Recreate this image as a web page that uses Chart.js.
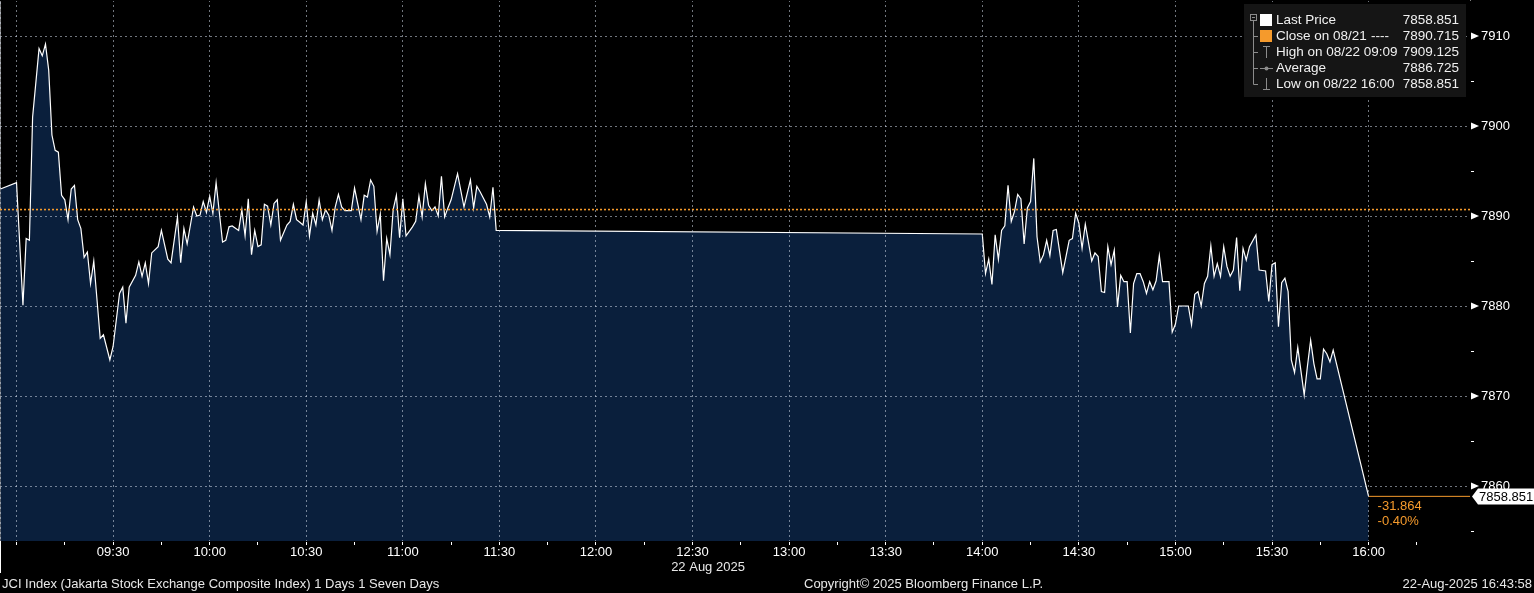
<!DOCTYPE html>
<html>
<head>
<meta charset="utf-8">
<script src="https://cdn.jsdelivr.net/npm/chart.js@4.4.1/dist/chart.umd.min.js"></script>
<style>
  html, body { margin: 0; padding: 0; background: #000; }
  canvas { display: block; }
</style>
</head>
<body>
<canvas id="chart1" width="1534" height="593"></canvas>
<script>
// minutes after the 09:00 open (pre-open print at -5)
var amMinutes = [-5, 0, 2, 3, 4, 5, 7, 8, 9, 10, 11, 12, 13, 14, 15, 16, 17, 18, 19, 20,
  21, 22, 23, 24, 26, 27, 29, 30, 32, 33, 34, 35, 37, 38, 39, 40, 41, 42, 44, 45,
  47, 48, 50, 51, 52, 53, 55, 56, 57, 58, 59, 60, 61, 62, 64, 65, 66, 67, 69, 70,
  71, 72, 73, 74, 75, 76, 77, 78, 79, 80, 81, 82, 84, 85, 86, 87, 88, 89, 90, 91,
  92, 93, 94, 95, 96, 97, 98, 99, 100, 101, 102, 104, 105, 107, 108, 109, 110, 111, 112, 113,
  114, 115, 116, 117, 118, 119, 120, 121, 122, 123, 124, 125, 126, 127, 128, 129, 130, 131, 132, 133,
  134, 135, 137, 139, 141, 142, 143, 144, 146, 147, 148, 149];
var amValues = [7893.0, 7893.7, 7880.1, 7887.5, 7887.3, 7901.0, 7908.6, 7907.8, 7909.1, 7906.2,
  7899.0, 7897.3, 7897.1, 7892.3, 7891.8, 7889.6, 7893.0, 7893.4, 7889.6, 7888.6,
  7885.4, 7886.0, 7882.5, 7885.0, 7876.4, 7876.8, 7874.0, 7875.5, 7881.4, 7882.1,
  7878.1, 7882.1, 7883.4, 7884.9, 7883.3, 7884.8, 7882.5, 7885.9, 7886.6, 7888.4,
  7885.2, 7884.8, 7889.9, 7884.8, 7888.6, 7886.9, 7891.0, 7890.0, 7890.1, 7891.6,
  7890.4, 7892.2, 7890.3, 7893.7, 7887.1, 7887.3, 7888.8, 7888.9, 7888.4, 7890.7,
  7887.8, 7891.9, 7885.7, 7888.4, 7886.6, 7886.8, 7891.3, 7891.1, 7889.0, 7891.4,
  7891.8, 7887.3, 7889.0, 7889.4, 7891.3, 7889.6, 7889.3, 7889.0, 7891.6, 7887.8,
  7890.3, 7889.0, 7891.8, 7889.6, 7890.7, 7890.1, 7888.4, 7891.0, 7892.4, 7891.0,
  7890.6, 7890.6, 7893.1, 7889.6, 7892.3, 7892.1, 7894.0, 7893.3, 7888.3, 7890.2,
  7882.8, 7887.5, 7885.7, 7890.7, 7892.3, 7887.6, 7891.9, 7887.8, 7888.3, 7888.8,
  7889.4, 7892.2, 7889.9, 7893.6, 7891.2, 7890.6, 7891.0, 7890.0, 7894.4, 7889.9,
  7890.9, 7891.8, 7894.7, 7891.0, 7894.0, 7890.9, 7893.3, 7892.7, 7891.3, 7889.9,
  7893.2, 7888.4];

// minutes after the 14:00 re-open
var pmMinutes = [0, 1, 2, 3, 4, 5, 6, 7, 8, 9, 10, 11, 12, 13, 14, 15, 16, 17, 18, 19,
  20, 21, 22, 23, 25, 27, 28, 29, 30, 31, 32, 34, 35, 36, 37, 38, 39, 40, 41, 42,
  43, 44, 45, 46, 47, 48, 49, 50, 51, 52, 53, 54, 55, 56, 58, 59, 60, 61, 63, 64,
  65, 66, 67, 68, 69, 70, 71, 72, 73, 74, 75, 76, 77, 78, 79, 80, 81, 82, 83, 85,
  86, 88, 89, 90, 91, 92, 93, 94, 95, 96, 97, 98, 100, 101, 102, 103, 104, 105, 106, 107,
  108, 109, 120];
var pmValues = [7888.0, 7883.6, 7885.2, 7882.4, 7887.9, 7885.2, 7888.4, 7888.9, 7893.4, 7889.4,
  7890.5, 7892.4, 7891.9, 7886.9, 7890.9, 7891.6, 7896.4, 7887.7, 7884.9, 7885.7,
  7887.3, 7885.6, 7888.4, 7888.5, 7883.7, 7887.3, 7887.5, 7890.3, 7889.2, 7886.4,
  7889.1, 7885.0, 7885.9, 7885.5, 7881.6, 7881.5, 7886.6, 7884.6, 7886.2, 7879.9,
  7883.4, 7882.7, 7882.7, 7877.0, 7882.5, 7883.6, 7883.6, 7882.7, 7881.4, 7882.7,
  7881.8, 7882.8, 7885.6, 7882.7, 7882.7, 7877.1, 7878.0, 7880.0, 7880.0, 7880.0,
  7877.9, 7881.3, 7881.6, 7880.0, 7882.5, 7883.3, 7886.7, 7883.3, 7884.7, 7883.3,
  7886.6, 7884.4, 7883.3, 7884.0, 7887.6, 7881.7, 7886.4, 7885.1, 7886.6, 7887.9,
  7884.0, 7883.9, 7880.5, 7884.6, 7884.8, 7877.7, 7882.6, 7883.1, 7881.6, 7874.0,
  7872.6, 7875.4, 7870.1, 7873.3, 7876.2, 7873.6, 7871.9, 7871.9, 7875.2, 7874.7,
  7873.8, 7875.1, 7858.851];

var legendLabels = ['Last Price', 'Close on 08/21', 'High on 08/22 09:09', 'Average', 'Low on 08/22 16:00'];
var legendValues = ['7858.851', '7890.715', '7909.125', '7886.725', '7858.851'];

var LAST = 7858.851;
var PREV_CLOSE = 7890.715;
var X_MIN = 534.87, X_MAX = 991.5;   // minutes since midnight
var Y_MIN = 7853.89, Y_MAX = 7914.0;

var ORANGE = '#f59a2c';
var GRID = 'rgba(205,215,230,0.55)';
var FONT = 'Liberation Sans';

function hhmm(v) {
  var h = Math.floor(v / 60), m = Math.round(v % 60);
  return (h < 10 ? '0' : '') + h + ':' + (m < 10 ? '0' : '') + m;
}

var pricePts = [];
amMinutes.forEach(function (m, i) { pricePts.push({x: 540 + m, y: amValues[i]}); });
pmMinutes.forEach(function (m, i) { pricePts.push({x: 840 + m, y: pmValues[i]}); });

var bbgDecor = {
  id: 'bbgDecor',
  beforeDraw: function (chart) {
    var ctx = chart.ctx;
    ctx.save();
    ctx.fillStyle = '#000';
    ctx.fillRect(0, 0, chart.width, chart.height);
    ctx.restore();
  },
  afterDraw: function (chart) {
    var ctx = chart.ctx;
    var xs = chart.scales.x, ys = chart.scales.y;
    var area = chart.chartArea;
    ctx.save();

    // keep the top row clean, dashed left edge like the terminal
    ctx.fillStyle = '#000';
    ctx.fillRect(0, 0, area.right, 1);
    ctx.strokeStyle = GRID;
    ctx.lineWidth = 1;
    ctx.setLineDash([2, 3]);
    ctx.beginPath();
    ctx.moveTo(0.5, area.top + 2); ctx.lineTo(0.5, area.bottom);
    ctx.stroke();
    ctx.setLineDash([]);

    // arrows on the major y ticks
    ctx.fillStyle = '#fff';
    ys.ticks.forEach(function (t) {
      if (t.value % 10 !== 0) return;
      var y = ys.getPixelForValue(t.value);
      ctx.beginPath();
      ctx.moveTo(area.right + 1, y - 3.5);
      ctx.lineTo(area.right + 9, y);
      ctx.lineTo(area.right + 1, y + 3.5);
      ctx.closePath();
      ctx.fill();
    });

    // last price tag
    var ly = Math.round(ys.getPixelForValue(LAST)) + 0.5;
    ctx.beginPath();
    ctx.moveTo(area.right + 2, ly);
    ctx.lineTo(area.right + 8, ly - 8);
    ctx.lineTo(chart.width, ly - 8);
    ctx.lineTo(chart.width, ly + 8);
    ctx.lineTo(area.right + 8, ly + 8);
    ctx.closePath();
    ctx.fillStyle = '#fff';
    ctx.fill();
    ctx.fillStyle = '#000';
    ctx.font = '13px "' + FONT + '"';
    ctx.textBaseline = 'middle';
    ctx.textAlign = 'left';
    ctx.fillText(LAST.toFixed(3), area.right + 9, ly + 0.5);

    // change vs previous close
    var chg = LAST - PREV_CLOSE;
    var x16 = xs.getPixelForValue(960);
    ctx.fillStyle = ORANGE;
    ctx.fillText(chg.toFixed(3), x16 + 9, ly + 10);
    ctx.fillText((chg / PREV_CLOSE * 100).toFixed(2) + '%', x16 + 9, ly + 25);

    // legend box
    ctx.fillStyle = '#151515';
    ctx.fillRect(1244, 4, 222, 93);
    ctx.strokeStyle = '#8c8c8c';
    ctx.lineWidth = 1;
    ctx.strokeRect(1250.5, 14.5, 6, 6);
    ctx.beginPath();
    ctx.moveTo(1252, 17.5); ctx.lineTo(1255, 17.5);
    ctx.moveTo(1253.5, 21); ctx.lineTo(1253.5, 84.5);
    [36, 52, 68, 84].forEach(function (y) {
      ctx.moveTo(1253.5, y + 0.5); ctx.lineTo(1258, y + 0.5);
    });
    // high / average / low glyphs
    ctx.moveTo(1263, 46.5); ctx.lineTo(1270, 46.5);
    ctx.moveTo(1266.5, 46.5); ctx.lineTo(1266.5, 58);
    ctx.moveTo(1260, 68.5); ctx.lineTo(1273, 68.5);
    ctx.moveTo(1266.5, 78); ctx.lineTo(1266.5, 89.5);
    ctx.moveTo(1263, 89.5); ctx.lineTo(1270, 89.5);
    ctx.stroke();
    ctx.fillStyle = '#8c8c8c';
    ctx.beginPath(); ctx.arc(1266.5, 68.5, 2, 0, Math.PI * 2); ctx.fill();
    ctx.fillStyle = '#fff';
    ctx.fillRect(1260, 14, 12, 12);
    ctx.fillStyle = ORANGE;
    ctx.fillRect(1260, 30, 12, 12);

    ctx.font = '13.5px "' + FONT + '"';
    ctx.fillStyle = '#f0f0f0';
    legendLabels.forEach(function (lab, i) {
      var y = 20.5 + i * 16;
      ctx.textAlign = 'left';
      ctx.fillText(lab, 1276, y);
      ctx.textAlign = 'right';
      ctx.fillText(legendValues[i], 1459, y);
    });
    ctx.textAlign = 'left';
    ctx.fillText('----', 1371, 36.5);

    // date row and footer
    ctx.strokeStyle = '#fff';
    ctx.beginPath();
    ctx.moveTo(0.5, area.bottom); ctx.lineTo(0.5, area.bottom + 32);
    ctx.stroke();
    ctx.font = '13px "' + FONT + '"';
    ctx.fillStyle = '#e8e8e8';
    ctx.textAlign = 'center';
    ctx.fillText('22 Aug 2025', 708, 567);
    ctx.textAlign = 'left';
    ctx.fillText('JCI Index (Jakarta Stock Exchange Composite Index) 1 Days 1 Seven Days', 2, 584);
    ctx.fillText('Copyright\u00a9 2025 Bloomberg Finance L.P.', 804, 584);
    ctx.textAlign = 'right';
    ctx.fillText('22-Aug-2025 16:43:58', 1532, 584);
    ctx.restore();
  }
};

Chart.defaults.font.family = FONT;

var chart = new Chart(document.getElementById('chart1'), {
  type: 'line',
  data: {
    datasets: [
      {
        data: [{x: X_MIN, y: PREV_CLOSE}, {x: X_MAX, y: PREV_CLOSE}],
        borderColor: ORANGE, borderWidth: 1.6, borderDash: [2, 2],
        pointRadius: 0, fill: false
      },
      {
        data: [{x: 960, y: LAST}, {x: X_MAX, y: LAST}],
        borderColor: ORANGE, borderWidth: 1,
        pointRadius: 0, fill: false
      },
      {
        data: pricePts,
        borderColor: '#ffffff', borderWidth: 1.2,
        backgroundColor: '#0a1f3c',
        fill: 'start', pointRadius: 0, tension: 0
      }
    ]
  },
  options: {
    responsive: false,
    animation: false,
    devicePixelRatio: 1,
    layout: {padding: 0},
    plugins: {legend: {display: false}, tooltip: {enabled: false}},
    scales: {
      x: {
        type: 'linear', min: X_MIN, max: X_MAX,
        afterFit: function (s) { s.height = 52; s.paddingLeft = 0; s.paddingRight = 0; },
        ticks: {
          stepSize: 15, includeBounds: false, autoSkip: false, maxRotation: 0,
          color: '#ffffff', font: {size: 13}, padding: 0,
          callback: function (v) { return (v % 30 === 0 && v >= 570 && v <= 960) ? hhmm(v) : ''; }
        },
        grid: {
          z: 1, tickLength: 4, tickBorderDash: [],
          color: function (c) { return (c.tick && c.tick.value % 30 === 0 && c.tick.value <= 960) ? GRID : 'rgba(0,0,0,0)'; },
          tickColor: function (c) { return (c.tick && c.tick.value <= 975) ? '#ffffff' : 'rgba(0,0,0,0)'; }
        },
        border: {color: '#ffffff', width: 1, dash: [2, 3]}
      },
      y: {
        position: 'right', min: Y_MIN, max: Y_MAX,
        afterFit: function (s) { s.width = 64; s.paddingTop = 0; s.paddingBottom = 0; },
        ticks: {
          stepSize: 5, includeBounds: false, color: '#ffffff', font: {size: 13}, padding: 7,
          callback: function (v) { return v % 10 === 0 ? String(v) : ''; }
        },
        grid: {
          z: 1, tickLength: 4, tickBorderDash: [], tickColor: '#ffffff',
          color: function (c) { return (c.tick && c.tick.value % 10 === 0) ? GRID : 'rgba(0,0,0,0)'; }
        },
        border: {color: '#ffffff', width: 1, dash: [2, 3]}
      }
    }
  },
  plugins: [bbgDecor]
});
</script>
</body>
</html>
